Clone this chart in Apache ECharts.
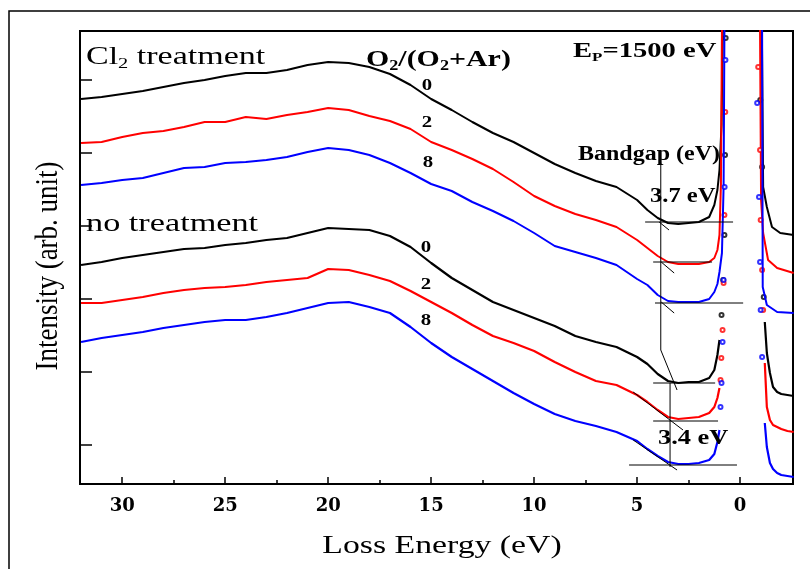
<!DOCTYPE html>
<html>
<head>
<meta charset="utf-8">
<script src="https://cdn.jsdelivr.net/npm/echarts@6/dist/echarts.min.js"></script>
<style>
  html, body { margin: 0; padding: 0; background: #fff; }
  #chart { width: 810px; height: 569px; }
</style>
</head>
<body>
<div id="chart"></div>
<script>
// loss energy grid (eV) shared by the curve bodies
const energy = [32, 31, 30, 29, 28, 27, 26, 25, 24, 23, 22, 21, 20, 19, 18, 17, 16, 15, 14, 13,
  12, 11, 10, 9, 8, 7, 6, 5, 4.5, 4, 3.5, 3, 2.5, 2, 1.5, 1.25, 1.1, 1.0]

// Cl2 treatment, O2/(O2+Ar) = 0, 2, 8 (arb. unit, stacked)
const cl2_0 = [386, 388, 391, 394, 398, 402, 405, 409, 412, 412, 415, 420, 423, 422, 418, 411, 400, 386, 375, 363,
  352, 343, 332, 321, 312, 304, 298, 285, 275, 267, 262, 261, 262, 263, 268, 280, 295, 315]
const cl2_2 = [342, 343, 348, 352, 354, 358, 363, 363, 368, 366, 370, 373, 377, 375, 369, 364, 356, 343, 335, 326,
  316, 303, 289, 279, 271, 265, 258, 245, 237, 229, 223, 221, 221, 221, 223, 227, 235, 250]
const cl2_8 = [300, 302, 305, 307, 312, 317, 318, 322, 323, 325, 328, 333, 337, 335, 330, 322, 312, 301, 294, 283,
  274, 264, 252, 239, 233, 227, 220, 206, 200, 190, 184, 183, 183, 183, 186, 193, 201, 213]
// elastic peak part (goes off the top of the frame)
const cl2_0_peak = [[0.9, 360], [0.84, 454], [0.8, 600], [-0.9, 600], [-1.06, 450], [-1.12, 298], [-1.3, 278], [-1.55, 258], [-1.95, 252], [-2.6, 250]]
const cl2_2_peak = [[0.93, 300], [0.88, 454], [0.84, 600], [-0.9, 600], [-0.97, 455], [-1.02, 285], [-1.12, 252], [-1.36, 225], [-1.8, 217], [-2.6, 212]]
const cl2_8_peak = [[0.88, 232], [0.8, 298], [0.76, 454], [0.72, 600], [-0.95, 600], [-1.07, 454], [-1.1, 198], [-1.3, 180], [-1.8, 173], [-2.6, 172]]

// no treatment, O2/(O2+Ar) = 0, 2, 8
const nt_0 = [220, 223, 227, 230, 233, 236, 237, 240, 242, 245, 247, 252, 257, 256, 255, 249, 238, 222, 207, 195,
  183, 175, 167, 159, 149, 143, 138, 128, 121, 111, 104, 102, 103, 103, 107, 115, 130, 145]
const nt_2 = [182, 182, 185, 188, 192, 195, 197, 198, 200, 203, 205, 207, 216, 215, 210, 204, 194, 183, 172, 160,
  149, 142, 134, 123, 113, 104, 100, 90, 83, 75, 68, 66, 67, 68, 72, 78, 87, 97]
const nt_8 = [143, 147, 150, 153, 157, 160, 163, 165, 165, 168, 172, 177, 182, 183, 178, 172, 158, 142, 128, 116,
  104, 92, 81, 71, 64, 59, 53, 44, 36, 29, 23, 21, 21, 22, 25, 31, 43, 55]
// sparse points on the elastic peak flanks
const nt_0_flank = [[0.9, 170], [0.82, 205], [0.76, 250], [0.73, 330], [0.7, 447], [-0.98, 385], [-1.07, 318], [-1.15, 188]]
const nt_2_flank = [[0.95, 105], [0.91, 127], [0.85, 155], [0.8, 202], [0.76, 270], [0.72, 373], [-0.88, 418], [-0.97, 335], [-1.0, 265], [-1.07, 215], [-1.12, 175]]
const nt_8_flank = [[0.95, 78], [0.9, 102], [0.85, 143], [0.8, 205], [0.75, 298], [0.71, 425], [-0.83, 382], [-0.92, 288], [-0.97, 223], [-1.0, 175], [-1.07, 128]]
// tails on the gain side
const nt_0_tail = [[-1.2, 163], [-1.3, 132], [-1.45, 112], [-1.6, 98], [-1.8, 93], [-2.0, 91], [-2.3, 90], [-2.6, 89]]
const nt_2_tail = [[-1.2, 122], [-1.3, 78], [-1.45, 65], [-1.6, 60], [-1.8, 58], [-2.0, 56], [-2.3, 54], [-2.6, 53]]
const nt_8_tail = [[-1.2, 62], [-1.3, 38], [-1.45, 22], [-1.6, 16], [-1.8, 12], [-2.0, 10], [-2.3, 9], [-2.6, 8]]

// bandgap construction lines
const gapLines = [
  [[4.61, 263], [0.34, 263]],
  [[4.22, 223], [1.36, 223]],
  [[4.13, 182], [-0.15, 182]],
  [[4.22, 102], [1.21, 102]],
  [[4.22, 64], [1.07, 64]],
  [[5.39, 20], [0.15, 20]],
  [[3.85, 322], [3.85, 135], [3.06, 95]],
  [[3.40, 102], [3.40, 18]],
  [[3.93, 263], [3.45, 255]],
  [[3.83, 223], [3.2, 212]],
  [[3.83, 183], [3.2, 172]],
  [[5.19, 93], [2.77, 55]],
  [[5.19, 45], [3.06, 15]]
]

const majorTicks = [0, 5, 10, 15, 20, 25, 30]
const minorTicks = [2.5, 7.5, 12.5, 17.5, 22.5, 27.5]
const yTicks = [40, 113, 186, 259, 332, 405]

const colors = ['#000000', '#ff0000', '#0000ff']
const serif = '"Liberation Serif"'

const pair = vals => energy.map((e, i) => [e, vals[i]])

const series = []
;[cl2_0, cl2_2, cl2_8].forEach((vals, i) => {
  const peak = [cl2_0_peak, cl2_2_peak, cl2_8_peak][i]
  series.push({
    type: 'line',
    data: pair(vals).concat(peak),
    showSymbol: false,
    lineStyle: { color: colors[i], width: 2 },
    itemStyle: { color: colors[i] },
    z: 3 + i
  })
})
;[nt_0, nt_2, nt_8].forEach((vals, i) => {
  const tail = [nt_0_tail, nt_2_tail, nt_8_tail][i]
  const flank = [nt_0_flank, nt_2_flank, nt_8_flank][i]
  series.push({
    type: 'line',
    data: pair(vals).concat([[0, '-']], tail),
    showSymbol: false,
    lineStyle: { color: colors[i], width: 2.2 },
    itemStyle: { color: colors[i] },
    z: 3 + i
  })
  series.push({
    type: 'scatter',
    data: flank,
    symbol: 'emptyCircle',
    symbolSize: 4,
    itemStyle: { color: colors[i], borderColor: colors[i], borderWidth: 1 },
    z: 3 + i
  })
})
gapLines.forEach(seg => {
  series.push({
    type: 'line',
    data: seg,
    showSymbol: false,
    silent: true,
    lineStyle: { color: '#000', width: 1 },
    z: 8
  })
})

function txt(x, y, text, size, bold, sx, align) {
  return {
    type: 'text',
    x: x,
    y: y,
    scaleX: sx,
    z: 10,
    style: {
      text: text,
      font: (bold ? 'bold ' : '') + size + 'px ' + serif,
      fill: '#000',
      textAlign: align || 'left',
      textVerticalAlign: 'middle'
    }
  }
}

function richTxt(x, y, text, size, bold, sx) {
  const w = bold ? 'bold ' : ''
  const el = txt(x, y, text, size, bold, sx)
  el.style.rich = {
    m: { font: w + size + 'px ' + serif, lineHeight: size + 4, verticalAlign: 'middle' },
    s: { font: w + Math.round(size * 0.6) + 'px ' + serif, lineHeight: 8, verticalAlign: 'bottom' }
  }
  return el
}

const chart = echarts.init(document.getElementById('chart'))
const option = {
  backgroundColor: '#fff',
  animation: false,
  grid: {
    left: 80,
    right: 17,
    top: 31,
    bottom: 85,
    show: true,
    borderColor: '#000',
    borderWidth: 2
  },
  xAxis: [
    {
      type: 'value',
      inverse: true,
      min: -2.57,
      max: 32.05,
      axisLine: { onZero: false, lineStyle: { color: '#000', width: 2 } },
      axisTick: { inside: true, length: 7, customValues: majorTicks, lineStyle: { color: '#000', width: 1.5 } },
      axisLabel: {
        customValues: majorTicks,
        margin: 13,
        color: '#000',
        fontFamily: '"DejaVu Serif"',
        fontWeight: 'bold',
        fontSize: 18
      },
      splitLine: { show: false }
    },
    {
      type: 'value',
      inverse: true,
      position: 'bottom',
      min: -2.57,
      max: 32.05,
      axisLine: { show: false, onZero: false },
      axisTick: { inside: true, length: 4, customValues: minorTicks, lineStyle: { color: '#000', width: 1.5 } },
      axisLabel: { show: false },
      splitLine: { show: false }
    }
  ],
  yAxis: {
    type: 'value',
    min: 1,
    max: 454,
    axisLine: { show: true, onZero: false, lineStyle: { color: '#000', width: 2 } },
    axisTick: { show: true, inside: true, length: 12, customValues: yTicks, lineStyle: { color: '#000', width: 1.5 } },
    axisLabel: { show: false },
    splitLine: { show: false }
  },
  graphic: [
    { type: 'rect', shape: { x: 9, y: 11, width: 900, height: 700 }, style: { fill: 'none', stroke: '#000', lineWidth: 1.5 } },
    richTxt(86, 57, '{m|Cl}{s|2}{m| treatment}', 25, false, 1.36),
    txt(86, 224, 'no treatment', 25, false, 1.37),
    richTxt(366, 60, '{m|O}{s|2}{m|/(O}{s|2}{m|+Ar)}', 23, true, 1.3),
    richTxt(573, 51, '{m|E}{s|P}{m|=1500 eV}', 22, true, 1.3),
    txt(578, 155, 'Bandgap (eV)', 20, true, 1.2),
    txt(650, 197, '3.7 eV', 21, true, 1.17),
    txt(658, 438, '3.4 eV', 22, true, 1.2),
    txt(427, 86, '0', 16, true, 1.3, 'center'),
    txt(427, 123, '2', 16, true, 1.3, 'center'),
    txt(428, 163, '8', 16, true, 1.3, 'center'),
    txt(426, 248, '0', 16, true, 1.3, 'center'),
    txt(426, 285, '2', 16, true, 1.3, 'center'),
    txt(426, 321, '8', 16, true, 1.3, 'center'),
    txt(442, 546, 'Loss Energy (eV)', 25, false, 1.35, 'center'),
    {
      type: 'text',
      x: 48,
      y: 266,
      rotation: Math.PI / 2,
      scaleY: 1.2,
      z: 10,
      style: {
        text: 'Intensity (arb. unit)',
        font: '27px ' + serif,
        fill: '#000',
        textAlign: 'center',
        textVerticalAlign: 'middle'
      }
    }
  ],
  series: series
}
chart.setOption(option, true)
</script>
</body>
</html>
